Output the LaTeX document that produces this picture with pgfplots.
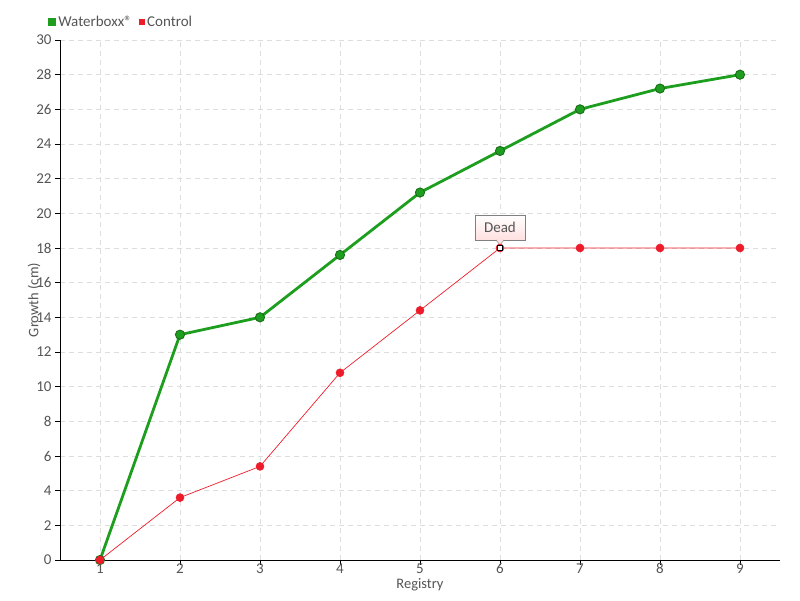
\documentclass[border=0pt]{standalone}
\usepackage{pgfplots}
\pgfplotsset{compat=1.18}
\usepackage{fontspec}
\setmainfont{Carlito}
\definecolor{txt}{HTML}{555555}
\definecolor{gridc}{HTML}{DDDDDD}
\definecolor{wgreen}{HTML}{1E9E1E}
\definecolor{wgreenedge}{HTML}{1A6E1A}
\definecolor{cred}{HTML}{EE1C2A}
\begin{document}
\begin{tikzpicture}
\useasboundingbox (-60pt,-40pt) rectangle (740pt,560pt);
\begin{axis}[
  scale only axis, width=720pt, height=520pt,
  xmin=0.5, xmax=9.5, ymin=0, ymax=30,
  xtick={1,...,9}, ytick={0,2,...,30},
  axis lines=left, axis line style={black, -},
  tick style={black, line width=0.8pt},
  tick align=outside, major tick length=5pt,
  grid=major, major grid style={gridc, dashed, dash pattern=on 5pt off 4pt},
  /pgf/number format/assume math mode=true,
  ticklabel style={font=\fontsize{15}{16}\selectfont, text=txt},
  xticklabel style={yshift=2.5pt, inner sep=1pt},
  xlabel={Registry}, ylabel={Growth (cm)},
  label style={font=\fontsize{14.5}{15}\selectfont, text=txt},
  xlabel style={at={(axis description cs:0.5,0)}, anchor=center, yshift=-24.5pt, inner sep=1pt},
  ylabel style={at={(axis description cs:-0.036,0.5)}, anchor=center, inner sep=1pt},
  legend style={at={(-0.017,1.035)}, anchor=west, draw=none, fill=none,
    font=\fontsize{15}{16}\selectfont, text=txt, legend columns=-1,
    inner sep=0pt,
    /tikz/every even column/.append style={column sep=5pt}},
  legend image code/.code={\fill[#1] (0pt,-2.8pt) rectangle (5.6pt,2.8pt);},
  clip=false,
]
\addplot[color=wgreen, line width=2.8pt, mark=*, mark size=4.6pt,
  mark options={fill=wgreen, draw=wgreenedge, line width=0.9pt}]
  coordinates {(1,0) (2,13) (3,14) (4,17.6) (5,21.2) (6,23.6) (7,26) (8,27.2) (9,28)};
\addlegendentry{Waterboxx®}
\addplot[color=cred, line width=0.7pt, mark=*, mark size=4pt,
  mark options={fill=cred, draw=cred, line width=0.5pt}]
  coordinates {(1,0) (2,3.6) (3,5.4) (4,10.8) (5,14.4) (6,18) (7,18) (8,18) (9,18)};
\addlegendentry{Control}
\addplot[forget plot, draw=none, mark=square*, mark size=2.5pt,
  mark options={fill=white, draw=black, line width=1pt}]
  coordinates {(6,18)};
\node[draw=gray, top color=white, bottom color=red!12, text=txt, font=\fontsize{15}{16}\selectfont,
  minimum width=50pt, minimum height=25pt, inner sep=2pt, anchor=south]
  (dl) at (axis cs:6,18) [yshift=8pt] {Dead};
\fill[red!12] ([xshift=-4pt,yshift=0.5pt]dl.south) -- ([yshift=-5pt]dl.south) -- ([xshift=4pt,yshift=0.5pt]dl.south) -- cycle;
\draw[gray] ([xshift=-4pt]dl.south) -- ([yshift=-5pt]dl.south) -- ([xshift=4pt]dl.south);
\end{axis}
\end{tikzpicture}
\end{document}
